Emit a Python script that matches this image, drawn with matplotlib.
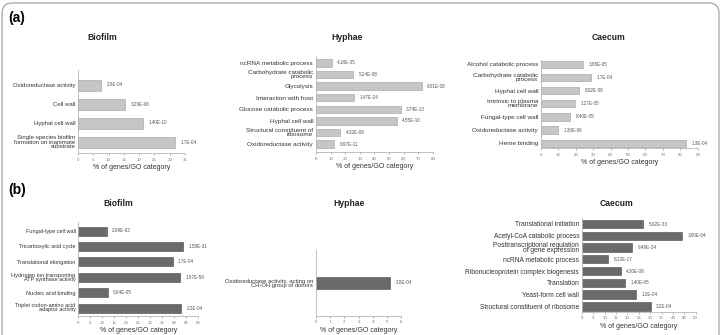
import matplotlib
matplotlib.use('Agg')
import matplotlib.pyplot as plt
from matplotlib.patches import FancyBboxPatch

plt.rcParams['font.family'] = ['Liberation Sans', 'DejaVu Sans']

# (a) light bars
a_bio_cats = ['Oxidoreductase activity', 'Cell wall', 'Hyphal cell wall',
              'Single-species biofilm\nformation on inanimate\nsubstrate']
a_bio_vals = [7.5, 15.4, 21.4, 31.7]
a_bio_pv = ['2.8E-04', '3.29E-06', '1.40E-10', '1.7E-04']

a_hyp_cats = ['ncRNA metabolic process', 'Carbohydrate catabolic\nprocess', 'Glycolysis',
              'Interaction with host', 'Glucose catabolic process', 'Hyphal cell wall',
              'Structural constituent of\nribosome', 'Oxidoreductase activity']
a_hyp_vals = [10.8, 25.6, 72.4, 26.3, 58.0, 55.3, 16.5, 12.6]
a_hyp_pv = ['4.18E-05', '5.24E-08', '6.91E-08', '1.47E-24', '3.74E-13', '4.55E-10',
            '4.32E-09', '8.97E-11']

a_cae_cats = ['Alcohol catabolic process', 'Carbohydrate catabolic\nprocess', 'Hyphal cell wall',
              'Intrinsic to plasma\nmembrane', 'Fungal-type cell wall', 'Oxidoreductase activity',
              'Heme binding']
a_cae_vals = [24.3, 28.7, 22.0, 19.5, 16.7, 10.0, 83.3]
a_cae_pv = ['3.88E-05', '1.7E-04', '8.02E-08', '1.27E-05', '8.40E-05', '1.36E-06', '1.3E-04']

# (b) dark bars
b_bio_cats = ['Fungal-type cell wall', 'Tricarboxylic acid cycle', 'Translational elongation',
              'Hydrogen ion transporting\nATP synthase activity', 'Nucleic acid binding',
              'Triplet codon-amino acid\nadaptor activity']
b_bio_vals = [11.8, 43.5, 39.3, 42.5, 12.2, 42.7]
b_bio_pv = ['2.99E-62', '1.58E-31', '1.7E-04', '1.57E-59', '5.94E-05', '2.3E-04']

b_hyp_cats = ['Oxidoreductase activity, acting on\nCH-OH group of donors']
b_hyp_vals = [5.2]
b_hyp_pv = ['2.8E-04']

b_cae_cats = ['Translational initiation', 'Acetyl-CoA catabolic process',
              'Posttranscriptional regulation\nof gene expression', 'ncRNA metabolic process',
              'Ribonucleoprotein complex biogenesis', 'Translation', 'Yeast-form cell wall',
              'Structural constituent of ribosome']
b_cae_vals = [27.0, 44.1, 22.1, 11.6, 17.0, 18.9, 23.6, 30.2]
b_cae_pv = ['5.92E-33', '3.00E-04', '9.49E-34', '8.13E-17', '4.30E-09', '1.40E-05',
            '1.2E-04', '3.2E-04']

W, H = 721, 335
fig = plt.figure(figsize=(W / 100, H / 100), dpi=100)

LIGHT = ('#c6c6c6', '#9c9c9c')
DARK = ('#6a6a6a', '#4a4a4a')


def panel(box, first, last, bar_px, cats, vals, pvals, xmax, step, title, title_xy,
          colors, lab_size=4.6):
    left, right, top, bottom = box
    ax = fig.add_axes([left / W, 1 - bottom / H, (right - left) / W, (bottom - top) / H])
    n = len(vals)
    if n > 1:
        sp = (last - first) / (n - 1)
        ylo, yhi = -(first - top) / sp, (n - 1) + (bottom - last) / sp
    else:
        sp = (bottom - top) / 2
        ylo, yhi = -(first - top) / sp, (bottom - first) / sp
    ax.barh(range(n), vals, height=bar_px / sp, color=colors[0], edgecolor=colors[1],
            linewidth=0.4)
    ax.set_ylim(yhi, ylo)
    ax.set_xlim(0, xmax)
    ax.set_xticks(range(0, xmax + 1, step))
    ax.set_yticks(range(n))
    ax.set_yticklabels(cats, fontsize=lab_size, color='#333333', linespacing=0.75)
    ax.tick_params(axis='y', length=0, pad=2)
    ax.tick_params(axis='x', length=1.5, width=0.4, pad=1.8, labelsize=3.2,
                   colors='#777777')
    for s in ['top', 'right']:
        ax.spines[s].set_visible(False)
    for s in ['left', 'bottom']:
        ax.spines[s].set_color('#b5b5b5')
        ax.spines[s].set_linewidth(0.6)
    ax.set_xlabel('% of genes/GO category', fontsize=5, color='#333333', labelpad=2)
    for i, (v, p) in enumerate(zip(vals, pvals)):
        ax.annotate(p, (v, i), xytext=(4, 0), textcoords='offset points',
                    va='center', ha='left', fontsize=3.3, color='#555555')
    fig.text(title_xy[0] / W, 1 - title_xy[1] / H, title, ha='center', va='center',
             fontsize=6.2, fontweight='bold', color='#222222')
    return ax


panel((78, 185, 70, 153), 85, 142, 11, a_bio_cats, a_bio_vals, a_bio_pv, 35, 5,
      'Biofilm', (102, 37), LIGHT, 4.3)
panel((316, 432.7, 56, 152), 63, 144, 7.3, a_hyp_cats, a_hyp_vals, a_hyp_pv, 80, 10,
      'Hyphae', (347, 37), LIGHT)
panel((541, 697.7, 60, 148), 64.3, 143.3, 7.3, a_cae_cats, a_cae_vals, a_cae_pv, 90, 10,
      'Caecum', (608, 37), LIGHT)

panel((78.3, 198.3, 221.7, 316), 231, 308, 9, b_bio_cats, b_bio_vals, b_bio_pv, 50, 5,
      'Biofilm', (118, 203), DARK, 4)
panel((316, 401.3, 250, 315.7), 283, 283, 12.7, b_hyp_cats, b_hyp_vals, b_hyp_pv, 6, 1,
      'Hyphae', (349, 203), DARK, 4.2)
panel((582, 695.7, 218, 311.7), 224, 306.3, 8.4, b_cae_cats, b_cae_vals, b_cae_pv, 50, 5,
      'Caecum', (616, 203), DARK, 4.8)

fig.text(8 / W, 1 - 18 / H, '(a)', fontsize=10, fontweight='bold', va='center', ha='left')
fig.text(8 / W, 1 - 190 / H, '(b)', fontsize=10, fontweight='bold', va='center', ha='left')

frame = FancyBboxPatch((2 / W, -0.1), 717 / W, 1.1 - 3 / H,
                       boxstyle='round,pad=0,rounding_size=0.014', mutation_aspect=W / H,
                       transform=fig.transFigure, fill=False, ec='#9a9a9a', lw=0.8)
fig.patches.append(frame)

fig.savefig('out.png', dpi=100, facecolor='white')
